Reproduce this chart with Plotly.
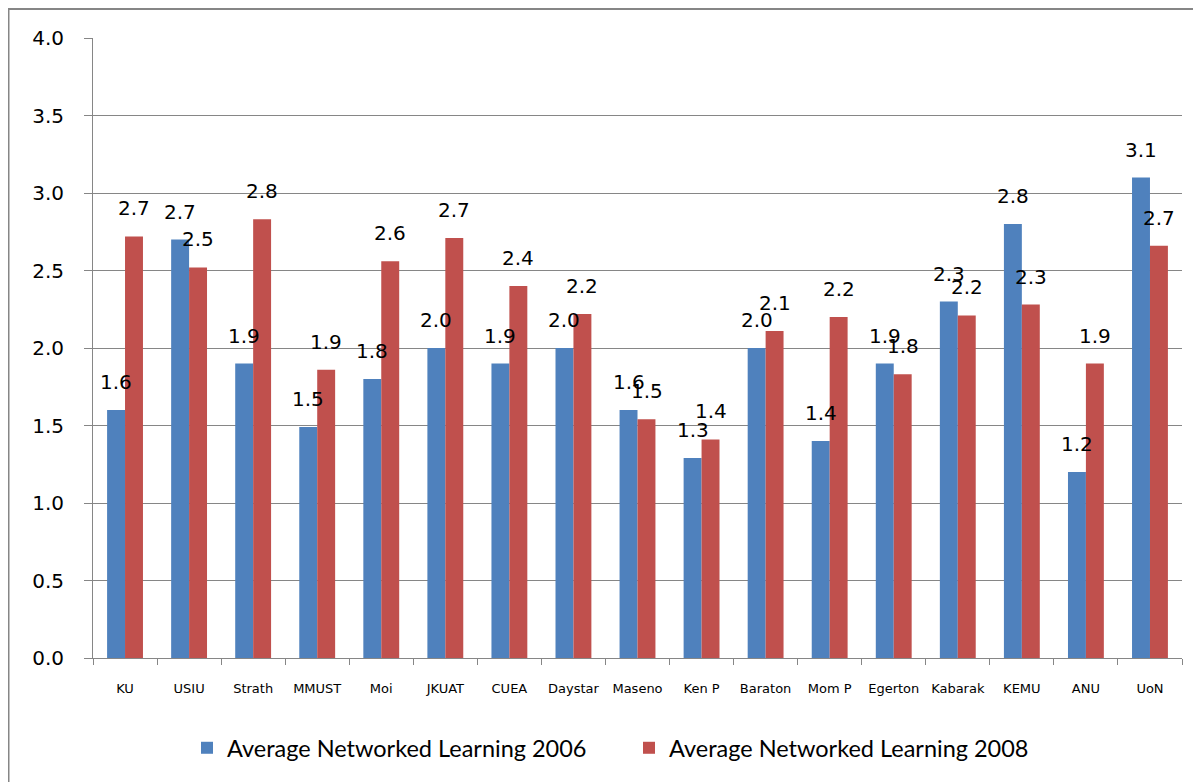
import plotly.graph_objects as go

categories = ["KU", "USIU", "Strath", "MMUST", "Moi", "JKUAT", "CUEA", "Daystar", "Maseno",
              "Ken P", "Baraton", "Mom P", "Egerton", "Kabarak", "KEMU", "ANU", "UoN"]
values_2006 = [1.6, 2.7, 1.9, 1.49, 1.8, 2.0, 1.9, 2.0, 1.6, 1.29, 2.0, 1.4, 1.9, 2.3, 2.8, 1.2, 3.1]
values_2008 = [2.72, 2.52, 2.83, 1.86, 2.56, 2.71, 2.4, 2.22, 1.54, 1.41, 2.11, 2.2, 1.83, 2.21, 2.28, 1.9, 2.66]
series_names = ["Average Networked Learning 2006", "Average Networked Learning 2008"]
colors = ["#4F81BD", "#C0504D"]

# page has an 8px body margin, so the figure is drawn 8px smaller and offset
W, H = 1193, 774
L, R, T, B = 85, 19, 30, 124
pw, ph = W - L - R, H - T - B

fig = go.Figure()
for name, vals, col in zip(series_names, [values_2006, values_2008], colors):
    fig.add_trace(go.Bar(
        x=categories, y=vals, name=name, marker_color=col, marker_line_width=0,
    ))

# data labels above each bar (shifted onto the bar's slot within the group)
for vals, xs in zip([values_2006, values_2008], [-9, 9]):
    for c, v in zip(categories, vals):
        fig.add_annotation(x=c, y=v, text=f"{v:.1f}", showarrow=False,
                           xshift=xs, yshift=14, yanchor="bottom",
                           font=dict(family="DejaVu Sans", size=20, color="#000000"))

# outer border of the chart (left and top edges visible)
fig.add_shape(type="rect", xref="paper", yref="paper",
              x0=(0.5 - L) / pw, x1=(1300 - L) / pw,
              y0=1 - (900 - T) / ph, y1=1 - (1 - T) / ph,
              line=dict(color="#868686", width=2), fillcolor="rgba(0,0,0,0)", layer="below")

fig.update_layout(
    width=W, height=H,
    margin=dict(l=L, r=R, t=T, b=B, autoexpand=False),
    paper_bgcolor="white", plot_bgcolor="white",
    barmode="group", bargap=0.44, bargroupgap=0.0,
    showlegend=True,
    legend=dict(orientation="h", xref="container", yref="container",
                x=179 / W, xanchor="left", y=34 / H, yanchor="middle",
                font=dict(family="Lato", size=23.5, color="#000000"),
                itemwidth=30, entrywidth=397, bgcolor="rgba(0,0,0,0)"),
    xaxis=dict(showline=True, linecolor="#868686", linewidth=1, ticks="outside",
               tickson="boundaries", ticklen=6, tickcolor="#868686",
               ticklabelstandoff=18, tickangle=0,
               tickfont=dict(family="DejaVu Sans", size=13, color="#000000"),
               showgrid=False),
    yaxis=dict(range=[0, 4], dtick=0.5, tickformat=".1f", showgrid=True, gridcolor="#868686",
               gridwidth=1, showline=True, linecolor="#868686", linewidth=1, ticks="outside",
               ticklen=8, tickcolor="#868686", zeroline=False, ticklabelstandoff=16,
               tickfont=dict(family="DejaVu Sans", size=20, color="#000000")),
)

fig.write_html("out.html")
